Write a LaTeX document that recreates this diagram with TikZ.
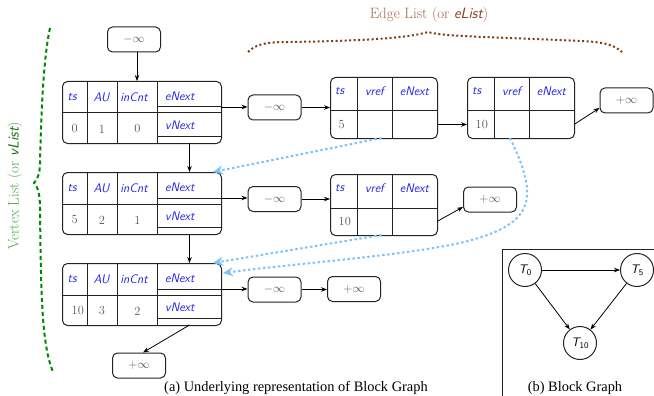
\documentclass[tikz,border=0pt]{standalone}
\usepackage{fontspec}
\newfontfamily\capfont{Liberation Serif}
\usetikzlibrary{arrows.meta,calc}
\definecolor{fblue}{RGB}{35,35,235}
\definecolor{numgray}{RGB}{85,85,85}
\definecolor{bordc}{RGB}{35,35,35}
\definecolor{skyb}{RGB}{125,195,250}
\definecolor{bgreen}{RGB}{0,135,0}
\definecolor{lgreen}{RGB}{80,170,80}
\definecolor{dgreen}{RGB}{20,110,20}
\definecolor{bbrown}{RGB}{130,60,15}
\definecolor{lbrown}{RGB}{165,105,75}
\definecolor{dbrown}{RGB}{140,60,30}
\newcommand\Tsub[1]{{\sffamily\itshape T}\raisebox{-0.4ex}{\sffamily\fontsize{8.7}{9}\selectfont #1}}
\tikzset{
  every node/.style={font=\fontsize{12.4}{14}\selectfont},
  rbox/.style={draw=bordc, line width=1pt, rounded corners=5pt, inner sep=0pt},
  infbox/.style={rbox, minimum width=53pt, minimum height=25pt, text=numgray},
  fld/.style={text=fblue, font=\fontsize{12.4}{14}\selectfont\sffamily\itshape, inner sep=0pt},
  num/.style={text=numgray, inner sep=0pt},
  cell/.style={draw=bordc, line width=1pt},
  arr/.style={-{Stealth[length=6pt,width=4.5pt]}, line width=0.8pt},
  barr/.style={draw=skyb, line width=2pt, dash pattern=on 2.5pt off 2.5pt, -{Stealth[length=10pt,width=9pt]}},
  circ/.style={draw=bordc, line width=1pt, circle, minimum size=33pt, inner sep=0pt},
  gbrace/.style={draw=bgreen, line width=2pt, dash pattern=on 4pt off 3pt},
  obrace/.style={draw=bbrown, line width=2pt, dash pattern=on 2pt off 2.5pt},
  capt/.style={font=\capfont\fontsize{14.4}{16}\selectfont},
}
% vertex node: name, x, y, ts, AU, inCnt
\newcommand\VNode[6]{%
  \node[rbox, minimum width=159pt, minimum height=62pt, anchor=north west] (#1) at (#2,#3) {};
  \draw[cell] ($(#1.north west)+(25,0)$) -- ($(#1.south west)+(25,0)$);
  \draw[cell] ($(#1.north west)+(55,0)$) -- ($(#1.south west)+(55,0)$);
  \draw[cell] ($(#1.north west)+(95,0)$) -- ($(#1.south west)+(95,0)$);
  \draw[cell] ($(#1.north west)+(0,32)$) -- ($(#1.north east)+(0,32)$);
  \draw[cell] ($(#1.north west)+(95,26)$) -- ($(#1.north east)+(0,26)$);
  \draw[cell] ($(#1.north west)+(95,55)$) -- ($(#1.north east)+(0,55)$);
  \node[fld, anchor=west] (#1-tsl) at ($(#1.north west)+(5.5,16)$) {ts};
  \node[fld] (#1-aul) at ($(#1.north west)+(39.5,16)$) {AU};
  \node[fld] (#1-inl) at ($(#1.north west)+(72,16)$) {inCnt};
  \node[fld, anchor=west] (#1-enl) at ($(#1.north west)+(103,15)$) {eNext};
  \node[fld, anchor=west] (#1-vnl) at ($(#1.north west)+(103,44)$) {vNext};
  \node[num, anchor=west] (#1-tsv) at ($(#1.north west)+(9.5,48)$) {#4};
  \node[num] (#1-auv) at ($(#1.north west)+(40,48)$) {#5};
  \node[num] (#1-inv) at ($(#1.north west)+(75.5,48)$) {#6};
  \coordinate (#1-in) at ($(#1.north west)+(75,0)$);
  \coordinate (#1-c) at ($(#1.north west)+(127.5,0)$);
  \coordinate (#1-cb) at ($(#1.north west)+(127.5,62)$);
  \coordinate (#1-e) at ($(#1.north west)+(159,26)$);
  \coordinate (#1-t) at ($(#1.north west)+(151,0)$);
  \coordinate (#1-t2) at ($(#1.north west)+(161,10)$);
}
% edge node: name, x, y, ts
\newcommand\ENode[4]{%
  \node[rbox, minimum width=107pt, minimum height=61pt, anchor=north west] (#1) at (#2,#3) {};
  \draw[cell] ($(#1.north west)+(27,0)$) -- ($(#1.south west)+(27,0)$);
  \draw[cell] ($(#1.north west)+(62,0)$) -- ($(#1.south west)+(62,0)$);
  \draw[cell] ($(#1.north west)+(0,34)$) -- ($(#1.north east)+(0,34)$);
  \node[fld, anchor=west] (#1-tsl) at ($(#1.north west)+(5,14)$) {ts};
  \node[fld] (#1-vrl) at ($(#1.north west)+(44.5,14)$) {vref};
  \node[fld] (#1-enl) at ($(#1.north west)+(84.5,14)$) {eNext};
  \node[num, anchor=west] (#1-tsv) at ($(#1.north west)+(8.5,47.5)$) {#4};
  \coordinate (#1-l) at ($(#1.north west)+(0,47.5)$);
  \coordinate (#1-r) at ($(#1.north west)+(107,47.5)$);
  \coordinate (#1-vb) at ($(#1.north west)+(44.5,61)$);
}
\begin{document}
\begin{tikzpicture}[x=1pt,y=-1pt]
\useasboundingbox (0,0) rectangle (654,396);

% vertex list
\node[infbox] (m0) at (134,39.5) {$-\infty$};
\VNode{v1}{62}{81}{0}{1}{0}
\VNode{v2}{62}{172}{5}{2}{1}
\VNode{v3}{62}{263}{10}{3}{2}
\node[infbox] (pb) at (139,365.5) {$+\infty$};

% edge lists
\node[infbox] (m1) at (274.5,107.5) {$-\infty$};
\node[infbox] (m2) at (274.5,199) {$-\infty$};
\node[infbox] (m3) at (274.5,289.5) {$-\infty$};
\ENode{e1}{330}{77}{5}
\ENode{e2}{467}{77}{10}
\ENode{e3}{330}{174}{10}
\node[infbox] (p1) at (626.5,100.5) {$+\infty$};
\node[infbox] (p2) at (490,199.5) {$+\infty$};
\node[infbox] (p3) at (354,289) {$+\infty$};

% connectors
\draw[arr] (m0.south -| v1-in) -- (v1-in);
\draw[arr] (v1-cb) -- (v2-c);
\draw[arr] (v2-cb) -- (v3-c);
\draw[arr] (v3-cb) -- ($(pb.north)+(4,0)$);
\draw[arr] (v1-e) -- (v1-e -| m1.west);
\draw[arr] (v2-e) -- (v2-e -| m2.west);
\draw[arr] (v3-e) -- (v3-e -| m3.west);
\draw[arr] (m1.east) -- (m1.east -| e1.west);
\draw[arr] (m2.east) -- (m2.east -| e3.west);
\draw[arr] (m3.east) -- (m3.east -| p3.west);
\draw[arr] (e1-r) -- (e2-l);
\draw[arr] (e2-r) -- ($(p1.west)+(0,7.5)$);
\draw[arr] (e3-r) -- ($(p2.west)+(0,7.5)$);

% vref pointers
\draw[barr] ($(e1-vb)+(7,0)$) -- (v2-t);
\draw[barr] ($(e3-vb)+(7,0)$) -- (v3-t);
\draw[barr] ($(e2-vb)+(-1.5,0)$) .. controls (540,200) and (535,225) .. (460,243)
   .. controls (400,256) and (300,263) .. (v3-t2);

% braces and labels
\draw[gbrace] (50,28) .. controls (43,60) and (41,120) .. (40,163)
   .. controls (40,174) and (37,180) .. (34,183)
   .. controls (38,187) and (40,195) .. (40,208)
   .. controls (41,300) and (42,345) .. (53,372);
\node[rotate=90, font=\fontsize{15}{17}\selectfont, text=lgreen] (vl) at (15,186)
   {Vertex List (or {\sffamily\itshape\color{dgreen}vList})};
\draw[obrace] (248,52) .. controls (256,44) and (266,42) .. (290,42)
   .. controls (350,41) and (405,39) .. (428,32)
   .. controls (445,37) and (500,37) .. (580,41)
   .. controls (605,42) and (614,45) .. (622,52);
\node[font=\fontsize{15}{17}\selectfont, text=lbrown] (el) at (429,15)
   {Edge List (or {\sffamily\itshape\color{dbrown}eList})};

% block graph
\draw[line width=0.7pt, bordc] (502.5,396) -- (502.5,249.5) -- (654,249.5);
\node[circ] (t0) at (525,270) {\Tsub{0}};
\node[circ] (t5) at (637,270) {\Tsub{5}};
\node[circ] (t10) at (580,343) {\Tsub{10}};
\draw[arr] (t0) -- (t5);
\draw[arr] (t0) -- (t10);
\draw[arr] (t5) -- (t10);

% captions
\node[capt] (capa) at (296,388) {(a) Underlying representation of Block Graph};
\node[capt] (capb) at (575,388) {(b) Block Graph};
\end{tikzpicture}
\end{document}
